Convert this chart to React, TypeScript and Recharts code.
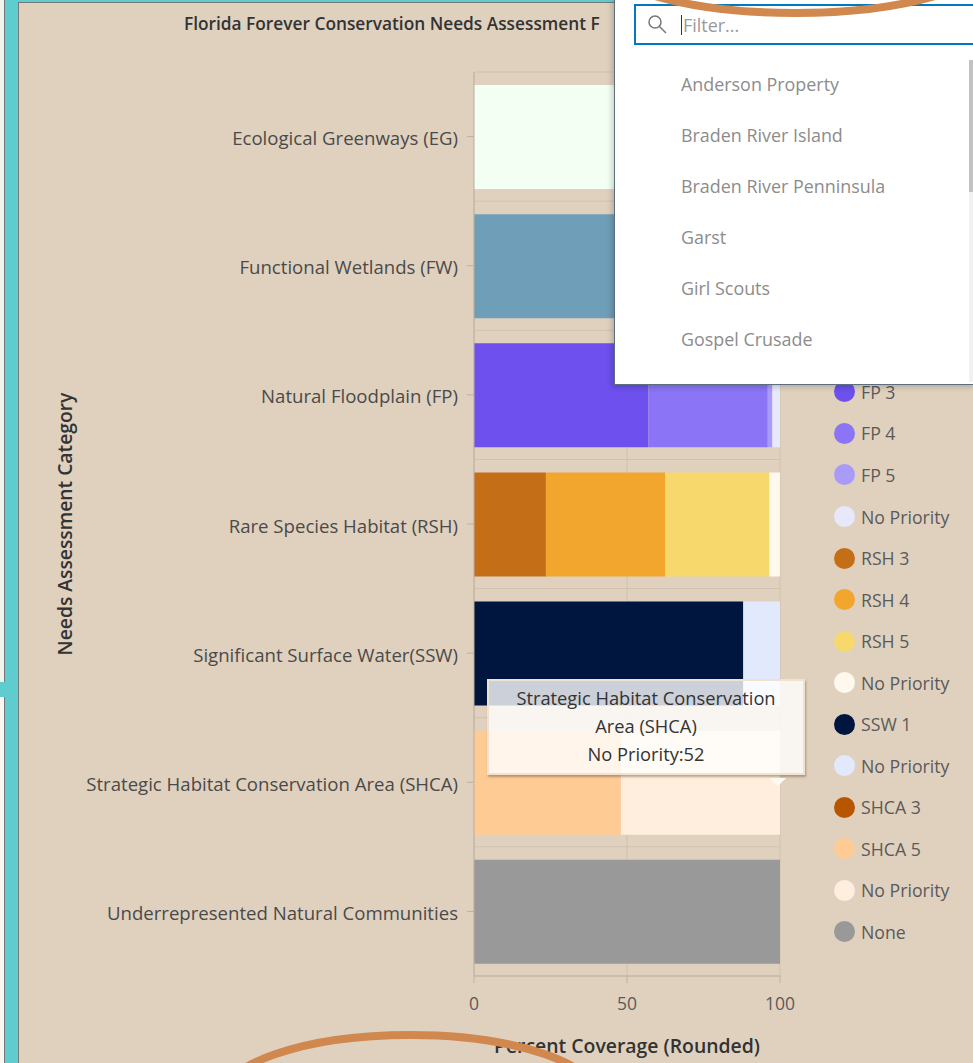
import React from "react";
import { BarChart, Bar, XAxis, YAxis, CartesianGrid, Tooltip, Legend } from "recharts";

const FONT = "'Open Sans', sans-serif";
const TITLE = "Florida Forever Conservation Needs Assessment F";
const X_TITLE = "Percent Coverage (Rounded)";
const Y_TITLE = "Needs Assessment Category";
const xTicks = [0, 50, 100];

const categories = [
  "Ecological Greenways (EG)",
  "Functional Wetlands (FW)",
  "Natural Floodplain (FP)",
  "Rare Species Habitat (RSH)",
  "Significant Surface Water(SSW)",
  "Strategic Habitat Conservation Area (SHCA)",
  "Underrepresented Natural Communities",
];

const filterItems = ["Anderson Property", "Braden River Island", "Braden River Penninsula", "Garst", "Girl Scouts", "Gospel Crusade"];

// category order:        EG   FW  FP RSH SSW SHCA None
const series = [
  { key: "eg", name: "EG", color: "#f4fff4", values: [100, 0, 0, 0, 0, 0, 0] },
  { key: "fw", name: "FW", color: "#6f9fb8", values: [0, 100, 0, 0, 0, 0, 0] },
  { key: "fp3", name: "FP 3", color: "#6d50ee", values: [0, 0, 57, 0, 0, 0, 0] },
  { key: "fp4", name: "FP 4", color: "#8b74f5", values: [0, 0, 39, 0, 0, 0, 0] },
  { key: "fp5", name: "FP 5", color: "#a99cf8", values: [0, 0, 1.5, 0, 0, 0, 0] },
  { key: "fpn", name: "No Priority", color: "#e8e8fb", values: [0, 0, 2.5, 0, 0, 0, 0] },
  { key: "rsh3", name: "RSH 3", color: "#c46e18", values: [0, 0, 0, 23.5, 0, 0, 0] },
  { key: "rsh4", name: "RSH 4", color: "#f2a62e", values: [0, 0, 0, 39, 0, 0, 0] },
  { key: "rsh5", name: "RSH 5", color: "#f6d86d", values: [0, 0, 0, 34, 0, 0, 0] },
  { key: "rshn", name: "No Priority", color: "#fff8ec", values: [0, 0, 0, 3.5, 0, 0, 0] },
  { key: "ssw1", name: "SSW 1", color: "#00163f", values: [0, 0, 0, 0, 88, 0, 0] },
  { key: "sswn", name: "No Priority", color: "#e3e9fd", values: [0, 0, 0, 0, 12, 0, 0] },
  { key: "shca3", name: "SHCA 3", color: "#b85600", values: [0, 0, 0, 0, 0, 0, 0] },
  { key: "shca5", name: "SHCA 5", color: "#fecb94", values: [0, 0, 0, 0, 0, 48, 0] },
  { key: "shcan", name: "No Priority", color: "#ffeedd", values: [0, 0, 0, 0, 0, 52, 0] },
  { key: "none", name: "None", color: "#999999", values: [0, 0, 0, 0, 0, 0, 100] },
];

const rows = categories.map((category, i) => {
  const row: Record<string, string | number> = { category };
  series.forEach((s) => (row[s.key] = s.values[i]));
  return row;
});

const gridColor = "#cfc1b0";
const axisColor = "#bdb0a0";
const textColor = "#4a4a4a";

function ChartLegend({ payload }: any) {
  return (
    <div>
      {(payload || []).map((p: any, i: number) => (
        <div key={i} style={{ display: "flex", alignItems: "center", height: 41.55, fontFamily: FONT, fontSize: 17.7, color: "#5a5a5a", whiteSpace: "nowrap" }}>
          <span style={{ width: 21, height: 21, borderRadius: "50%", background: p.color, marginRight: 6, flex: "none" }} />
          <span>{p.value}</span>
        </div>
      ))}
    </div>
  );
}

function ChartTooltip({ label, payload }: any) {
  const item = (payload || []).find((p: any) => p.dataKey === "shcan");
  return (
    <div style={{ position: "relative", width: 318, height: 96, boxSizing: "border-box", padding: "3px 24px", background: "rgba(255,255,255,0.8)", border: "2px solid #f0e2d0", boxShadow: "1px 2px 2px rgba(120,90,60,0.5)", fontFamily: FONT, fontSize: 18.3, lineHeight: "28px", textAlign: "center", color: "#333" }}>
      <div>{label}</div>
      <div>{item ? `${item.name}:${item.value}` : ""}</div>
      <div style={{ position: "absolute", left: 283, top: 91, width: 12, height: 12, background: "#fffaf4", transform: "rotate(45deg)", clipPath: "polygon(100% 0, 100% 100%, 0 100%)" }} />
    </div>
  );
}

export default function App() {
  return (
    <div style={{ position: "absolute", left: 0, top: 0, width: 973, height: 1063, overflow: "hidden", background: "#5fcdd0" }}>
      <div style={{ position: "absolute", left: 0, top: 0, width: 4, height: 682, background: "#f1f4ee", borderRight: "1px solid #777" }} />
      <div style={{ position: "absolute", left: 0, top: 697, width: 4, height: 366, background: "#f7f7f5", borderRight: "1px solid #777" }} />
      <div style={{ position: "absolute", left: 18, top: 2, width: 955, height: 1061, background: "#e0d1bf", borderLeft: "1.5px solid #777", borderTop: "1.5px solid #777", boxSizing: "border-box" }} />
      <div style={{ position: "absolute", left: 184, top: 12, fontFamily: FONT, fontSize: 17.3, fontWeight: 600, color: "#333", whiteSpace: "nowrap" }}>{TITLE}</div>
      <div style={{ position: "absolute", left: 0, top: 0 }}>
        <BarChart width={973} height={1063} data={rows} layout="vertical" barSize={104} margin={{ top: 72, right: 58, bottom: 0, left: 19 }}>
          <CartesianGrid
            stroke={gridColor}
            horizontalCoordinatesGenerator={({ offset }: any) =>
              [...categories, ""].map((_, i) => offset.top + (i * offset.height) / categories.length)
            }
          />
          <XAxis
            type="number"
            domain={[0, 100]}
            ticks={xTicks}
            height={87}
            tickSize={7}
            tickMargin={15}
            stroke={axisColor}
            tick={{ fill: "#5a5a5a", fontSize: 17.5, fontFamily: FONT }}
            label={{ value: X_TITLE, position: "insideBottom", offset: 10, fill: "#333", fontSize: 19.4, fontWeight: 600, fontFamily: FONT }}
          />
          <YAxis
            type="category"
            dataKey="category"
            width={455}
            interval={0}
            tickSize={7}
            tickMargin={9}
            stroke={axisColor}
            tick={{ fill: textColor, fontSize: 18.6, fontFamily: FONT, dy: 2 }}
            label={{ value: Y_TITLE, angle: -90, position: "insideLeft", offset: 46, fill: "#333", fontSize: 19.3, fontWeight: 600, fontFamily: FONT, style: { textAnchor: "middle" } }}
          />
          <Tooltip
            active
            defaultIndex={5}
            cursor={false}
            position={{ x: 487, y: 679 }}
            allowEscapeViewBox={{ x: true, y: true }}
            isAnimationActive={false}
            content={<ChartTooltip />}
          />
          <Legend layout="vertical" verticalAlign="top" align="right" itemSorter={null} content={<ChartLegend />} wrapperStyle={{ left: 834, top: 288, width: 135 }} />
          {series.map((s) => (
            <Bar key={s.key} dataKey={s.key} name={s.name} stackId="coverage" fill={s.color} isAnimationActive={false} />
          ))}
        </BarChart>
      </div>
      {/* dropdown panel over the chart */}
      <div style={{ position: "absolute", left: 614, top: -2, width: 362, height: 387, background: "#fff", borderLeft: "1.5px solid #5c6f80", borderBottom: "1.5px solid #5c6f80", boxShadow: "-2px 2px 6px rgba(0,0,0,0.2)", boxSizing: "border-box", fontFamily: FONT, fontSize: 17.9, color: "#8c8c8c" }}>
        <div style={{ position: "absolute", left: 19, top: 6, width: 345, height: 41, border: "2.5px solid #0079c1", boxSizing: "border-box" }} />
        <svg style={{ position: "absolute", left: 32, top: 16 }} width={22} height={22}>
          <circle cx={8} cy={8} r={6} fill="none" stroke="#777" strokeWidth={1.5} />
          <line x1={12.5} y1={12.5} x2={19} y2={19} stroke="#777" strokeWidth={1.5} />
        </svg>
        <div style={{ position: "absolute", left: 66, top: 17, lineHeight: "20px", borderLeft: "1px solid #333", paddingLeft: 1, color: "#999" }}>Filter...</div>
        {filterItems.map((t, i) => (
          <div key={t} style={{ position: "absolute", left: 66, top: 75 + i * 50.9, lineHeight: "22px", whiteSpace: "nowrap" }}>{t}</div>
        ))}
        <div style={{ position: "absolute", left: 354, top: 62, width: 6, height: 322, background: "#f1f1f1" }} />
        <div style={{ position: "absolute", left: 354, top: 62, width: 6, height: 132, background: "#c2c2c2" }} />
      </div>
      {/* hand-drawn annotation ovals */}
      <svg style={{ position: "absolute", left: 0, top: 0, pointerEvents: "none" }} width={973} height={1063}>
        <ellipse cx={795} cy={-50} rx={205} ry={63} fill="none" stroke="#d0884f" strokeWidth={8} />
        <ellipse cx={410} cy={1100} rx={190} ry={65} fill="none" stroke="#d0884f" strokeWidth={8} />
      </svg>
    </div>
  );
}
